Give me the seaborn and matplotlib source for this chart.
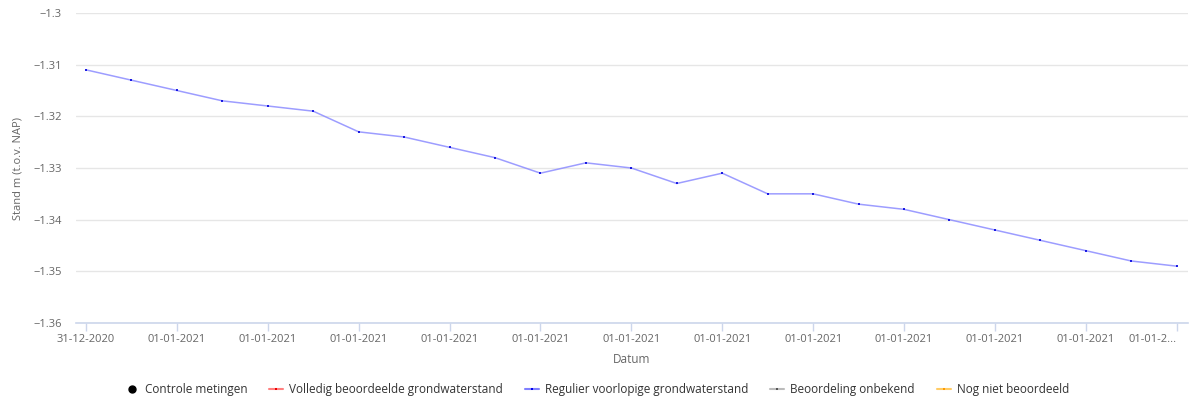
import matplotlib
matplotlib.use("Agg")
import matplotlib.pyplot as plt
from matplotlib.lines import Line2D
import numpy as np
import pandas as pd
import seaborn as sns

# meetpunten (volgorde op de tijdas)
stand = [-1.311, -1.313, -1.315, -1.317, -1.318, -1.319, -1.323, -1.324, -1.326,
         -1.328, -1.331, -1.329, -1.330, -1.333, -1.331, -1.335, -1.335, -1.337,
         -1.338, -1.340, -1.342, -1.344, -1.346, -1.348, -1.349]
tick_labels = ["31-12-2020"] + ["01-01-2021"] * 11 + ["01-01-2..."]
y_ticks = [-1.36, -1.35, -1.34, -1.33, -1.32, -1.31, -1.3]
legend_labels = ["Controle metingen", "Volledig beoordeelde grondwaterstand",
                 "Regulier voorlopige grondwaterstand", "Beoordeling onbekend",
                 "Nog niet beoordeeld"]

df = pd.DataFrame({"idx": np.arange(len(stand)), "stand": stand})

sns.set_style("white")
plt.rcParams["font.family"] = ["Open Sans", "DejaVu Sans"]

fig = plt.figure(figsize=(11.96, 4.0), dpi=100)
ax = fig.add_axes([0.0635, 0.1925, 0.9295, 0.775])

sns.lineplot(data=df, x="idx", y="stand", ax=ax, color="#8c8cff", alpha=0.85,
             linewidth=1.1, marker="s", markersize=1.7, markerfacecolor="#0000dd",
             markeredgewidth=0, legend=False)

ax.set_xlim(-0.22, 24.24)
ax.set_ylim(-1.36, -1.3)
ax.set_yticks(y_ticks)
ax.set_yticklabels([f"{v:g}".replace("-", "\u2212") for v in y_ticks])
ax.set_xticks(np.arange(0, len(stand), 2))
ax.set_xticklabels(tick_labels)
ax.get_xticklabels()[-1].set_horizontalalignment("right")

ax.grid(axis="y", color="#e6e6e6", linewidth=1)
ax.set_axisbelow(True)
for s in ["top", "right", "left"]:
    ax.spines[s].set_visible(False)
ax.spines["bottom"].set_color("#ccd6eb")
ax.spines["bottom"].set_linewidth(1.2)
ax.tick_params(axis="x", colors="#666666", labelsize=8, length=6, width=1,
               color="#ccd6eb", pad=2, direction="out", bottom=True)
ax.tick_params(axis="y", colors="#666666", labelsize=8, length=0, pad=10)

ax.set_xlabel("Datum", color="#666666", fontsize=8.5, labelpad=6)
ax.set_ylabel("Stand m (t.o.v. NAP)", color="#666666", fontsize=8)
ax.yaxis.set_label_coords(-0.047, 0.5)

handles = [
    Line2D([], [], linestyle="none", marker="o", color="black", markersize=5),
    Line2D([], [], color="#ff8080", marker="s", markersize=1.5, markerfacecolor="#ee0000", markeredgewidth=0),
    Line2D([], [], color="#8080ff", marker="s", markersize=1.5, markerfacecolor="#0000ee", markeredgewidth=0),
    Line2D([], [], color="#bbbbbb", marker="s", markersize=1.5, markerfacecolor="#555555", markeredgewidth=0),
    Line2D([], [], color="#ffcc66", marker="s", markersize=1.5, markerfacecolor="#ff9900", markeredgewidth=0),
]
fig.legend(handles, legend_labels, loc="center", bbox_to_anchor=(0.499, 0.025),
           ncol=5, frameon=False, fontsize=8.5, handlelength=1.2, handletextpad=0.5,
           columnspacing=1.85, labelcolor="#333333")

fig.savefig("out.png", dpi=100)
